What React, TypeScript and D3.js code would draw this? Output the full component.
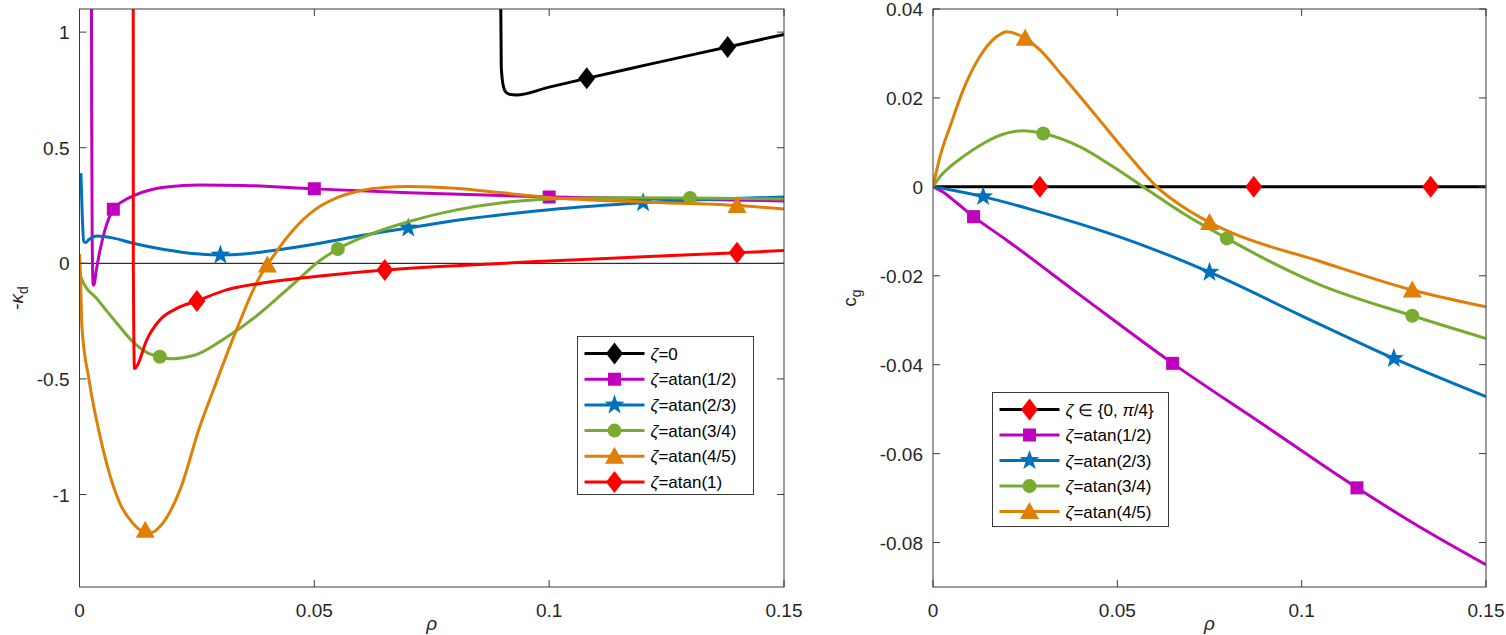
import React from "react";
import * as d3 from "d3";

type P = [number, number];

// ---------- Left panel: -kappa_d vs rho ----------
const kdBlack: P[] = [[0.0896, 1.6], [0.0897, 1.1], [0.0898, 0.85], [0.0902, 0.77], [0.0908, 0.74], [0.0918, 0.73], [0.093, 0.728], [0.1, 0.762], [0.108, 0.8], [0.12, 0.855], [0.138, 0.936], [0.15, 0.99]];
const kdBlackMarks: P[] = [[0.108, 0.8], [0.138, 0.936]];

const kdMagenta: P[] = [[0.0025, 1.6], [0.0026, 0.6], [0.0027, 0.1], [0.0029, -0.09], [0.0031, -0.095], [0.0035, -0.04], [0.0044, 0.06], [0.0055, 0.15], [0.0072, 0.234], [0.0095, 0.272], [0.0114, 0.292], [0.015, 0.317], [0.0185, 0.33], [0.0256, 0.339], [0.035, 0.337], [0.05, 0.322], [0.07, 0.305], [0.1, 0.287], [0.12, 0.28], [0.15, 0.27]];
const kdMagentaMarks: P[] = [[0.0072, 0.234], [0.05, 0.322], [0.1, 0.287]];

const kdBlue: P[] = [[0.0003, 0.39], [0.0006, 0.2], [0.0009, 0.095], [0.0013, 0.09], [0.002, 0.103], [0.0037, 0.118], [0.007, 0.11], [0.0114, 0.087], [0.018, 0.06], [0.0256, 0.04], [0.03, 0.036], [0.035, 0.04], [0.04, 0.052], [0.0512, 0.087], [0.06, 0.12], [0.07, 0.153], [0.08, 0.185], [0.1, 0.232], [0.12, 0.262], [0.135, 0.277], [0.15, 0.287]];
const kdBlueMarks: P[] = [[0.03, 0.036], [0.07, 0.153], [0.12, 0.262]];

const kdGreen: P[] = [[0, -0.03], [0.0003, -0.06], [0.004, -0.16], [0.008, -0.26], [0.0114, -0.34], [0.0143, -0.385], [0.0171, -0.404], [0.0193, -0.413], [0.022, -0.408], [0.0249, -0.395], [0.0313, -0.32], [0.0384, -0.216], [0.0455, -0.09], [0.0512, 0.012], [0.055, 0.062], [0.06, 0.11], [0.07, 0.18], [0.08, 0.23], [0.09, 0.262], [0.1, 0.278], [0.115, 0.284], [0.13, 0.283], [0.15, 0.278]];
const kdGreenMarks: P[] = [[0.0171, -0.404], [0.055, 0.062], [0.13, 0.283]];

const kdOrange: P[] = [[0, 0.04], [0.0002, -0.05], [0.0005, -0.27], [0.002, -0.5], [0.0044, -0.75], [0.0086, -1.038], [0.0114, -1.125], [0.014, -1.163], [0.0155, -1.163], [0.0171, -1.139], [0.0214, -0.98], [0.0256, -0.707], [0.0285, -0.548], [0.0334, -0.289], [0.0384, -0.058], [0.04, -0.007], [0.0455, 0.144], [0.05, 0.23], [0.055, 0.285], [0.06, 0.315], [0.065, 0.328], [0.07, 0.332], [0.08, 0.325], [0.09, 0.305], [0.1, 0.285], [0.12, 0.265], [0.14, 0.25], [0.15, 0.235]];
const kdOrangeMarks: P[] = [[0.014, -1.155], [0.04, -0.007], [0.14, 0.25]];

const kdRed: P[] = [[0.01143, 1.6], [0.01146, 0.0], [0.0117, -0.455], [0.0122, -0.445], [0.0143, -0.332], [0.0171, -0.245], [0.0207, -0.195], [0.025, -0.163], [0.0313, -0.115], [0.0384, -0.087], [0.0512, -0.055], [0.065, -0.029], [0.08, -0.01], [0.1, 0.01], [0.12, 0.028], [0.14, 0.046], [0.15, 0.055]];
const kdRedMarks: P[] = [[0.025, -0.163], [0.065, -0.029], [0.14, 0.046]];

const kdZero: P[] = [[0, 0], [0.15, 0]];

// ---------- Right panel: c_g vs rho ----------
const cgBlack: P[] = [[0, 0], [0.15, 0]];
const cgBlackMarks: P[] = [[0.029, 0], [0.087, 0], [0.135, 0]];

const cgMagenta: P[] = [[0, 0], [0.003, -0.0013], [0.006, -0.0033], [0.011, -0.0067], [0.02, -0.012], [0.04, -0.0244], [0.065, -0.0397], [0.09, -0.0537], [0.115, -0.0677], [0.13, -0.0755], [0.15, -0.085]];
const cgMagentaMarks: P[] = [[0.011, -0.0067], [0.065, -0.0397], [0.115, -0.0677]];

const cgBlue: P[] = [[0, 0], [0.005, -0.0007], [0.0136, -0.0022], [0.0263, -0.005], [0.04, -0.0084], [0.05, -0.0111], [0.06, -0.0141], [0.075, -0.0192], [0.1, -0.029], [0.125, -0.0386], [0.15, -0.0472]];
const cgBlueMarks: P[] = [[0.0136, -0.0022], [0.075, -0.0192], [0.125, -0.0386]];

const cgGreen: P[] = [[0, 0], [0.0019, 0.0023], [0.0046, 0.0045], [0.0082, 0.0068], [0.0127, 0.0093], [0.0173, 0.0113], [0.0245, 0.0126], [0.0299, 0.012], [0.0399, 0.009], [0.0489, 0.0045], [0.057, 0], [0.0679, -0.006], [0.0797, -0.0116], [0.09, -0.0162], [0.104, -0.0217], [0.13, -0.029], [0.15, -0.0341]];
const cgGreenMarks: P[] = [[0.0299, 0.012], [0.0797, -0.0116], [0.13, -0.029]];

const cgOrange: P[] = [[0, 0], [0.0019, 0.0068], [0.0046, 0.0135], [0.0082, 0.0218], [0.0127, 0.0293], [0.0173, 0.0338], [0.02, 0.0349], [0.025, 0.0334], [0.029, 0.0308], [0.0353, 0.0248], [0.0444, 0.0158], [0.0534, 0.0068], [0.0607, 0], [0.0697, -0.0055], [0.075, -0.008], [0.0806, -0.0102], [0.104, -0.0165], [0.13, -0.0232], [0.15, -0.027]];
const cgOrangeMarks: P[] = [[0.025, 0.0334], [0.075, -0.008], [0.13, -0.0232]];

// ---------- ticks & labels ----------
const xTicks = [0, 0.05, 0.1, 0.15];
const xTickLabels = ["0", "0.05", "0.1", "0.15"];
const kdTicks = [-1, -0.5, 0, 0.5, 1];
const kdTickLabels = ["-1", "-0.5", "0", "0.5", "1"];
const cgTicks = [-0.08, -0.06, -0.04, -0.02, 0, 0.02, 0.04];
const cgTickLabels = ["-0.08", "-0.06", "-0.04", "-0.02", "0", "0.02", "0.04"];

const legendLeft = ["=0", "=atan(1/2)", "=atan(2/3)", "=atan(3/4)", "=atan(4/5)", "=atan(1)"];
const legendRight = ["=atan(1/2)", "=atan(2/3)", "=atan(3/4)", "=atan(4/5)"];

const C = {
  black: "#000000",
  magenta: "#BF00BF",
  blue: "#0072BD",
  green: "#77AC30",
  orange: "#DF7F05",
  red: "#FF0000",
};

const FONT = "'Liberation Sans', Arial, Helvetica, sans-serif";
const AX = "#3a3a3a";
const TICK_FS = 19;
const LEG_FS = 17;

type MarkerType = "diamond" | "square" | "star" | "circle" | "triangle";

function starPath(R: number, r: number) {
  const pts: string[] = [];
  for (let i = 0; i < 10; i++) {
    const a = -Math.PI / 2 + (i * Math.PI) / 5;
    const rr = i % 2 === 0 ? R : r;
    pts.push(`${(rr * Math.cos(a)).toFixed(2)},${(rr * Math.sin(a)).toFixed(2)}`);
  }
  return "M" + pts.join("L") + "Z";
}

function Marker({ type, x, y, color }: { type: MarkerType; x: number; y: number; color: string }) {
  const t = `translate(${x},${y})`;
  if (type === "circle") return <circle cx={x} cy={y} r={7} fill={color} />;
  let d = "";
  if (type === "diamond") d = "M0,-11L8.5,0L0,11L-8.5,0Z";
  else if (type === "square") d = "M-6.5,-6.5H6.5V6.5H-6.5Z";
  else if (type === "star") d = starPath(10.5, 4.2);
  else if (type === "triangle") d = "M0,-9.5L9.5,7.5L-9.5,7.5Z";
  return <path d={d} transform={t} fill={color} />;
}

type Series = { data: P[]; marks: P[]; color: string; markColor: string; marker: MarkerType };

function Panel({
  x0, x1, y0, y1, yDomain, yTicks, yTickLabels, series, extra, clipId, yLabel, yLabelX, legend,
}: {
  x0: number; x1: number; y0: number; y1: number; yDomain: [number, number];
  yTicks: number[]; yTickLabels: string[]; series: Series[]; extra?: P[]; clipId: string;
  yLabel: React.ReactNode; yLabelX: number;
  legend: { x: number; y: number; w: number; h: number; row0: number; dy: number; items: { label: React.ReactNode; s: Series }[] };
}) {
  const xs = d3.scaleLinear().domain([0, 0.15]).range([x0, x1]);
  const ys = d3.scaleLinear().domain(yDomain).range([y1, y0]);
  const line = d3.line<P>().x((d) => xs(d[0])).y((d) => ys(d[1])).curve(d3.curveMonotoneX);
  const tl = 7;
  return (
    <g>
      <defs>
        <clipPath id={clipId}>
          <rect x={x0} y={y0} width={x1 - x0} height={y1 - y0} />
        </clipPath>
      </defs>
      <g clipPath={`url(#${clipId})`}>
        {extra && <path d={d3.line<P>().x((d) => xs(d[0])).y((d) => ys(d[1]))(extra) || ""} stroke="#000" strokeWidth={1} fill="none" />}
        {series.map((s, i) => (
          <g key={i}>
            <path d={line(s.data) || ""} stroke={s.color} strokeWidth={3} fill="none" strokeLinejoin="round" />
            {s.marks.map((m, j) => (
              <Marker key={j} type={s.marker} x={xs(m[0])} y={ys(m[1])} color={s.markColor} />
            ))}
          </g>
        ))}
      </g>
      {/* frame */}
      <rect x={x0} y={y0} width={x1 - x0} height={y1 - y0} fill="none" stroke={AX} strokeWidth={1} />
      {xTicks.map((t, i) => (
        <g key={"x" + i}>
          <line x1={xs(t)} x2={xs(t)} y1={y1} y2={y1 - tl} stroke={AX} />
          <line x1={xs(t)} x2={xs(t)} y1={y0} y2={y0 + tl} stroke={AX} />
          <text x={xs(t)} y={617} textAnchor="middle" fontSize={TICK_FS} fontFamily={FONT} fill="#262626">{xTickLabels[i]}</text>
        </g>
      ))}
      {yTicks.map((t, i) => (
        <g key={"y" + i}>
          <line x1={x0} x2={x0 + tl} y1={ys(t)} y2={ys(t)} stroke={AX} />
          <line x1={x1} x2={x1 - tl} y1={ys(t)} y2={ys(t)} stroke={AX} />
          <text x={x0 - 10} y={ys(t) + 7} textAnchor="end" fontSize={TICK_FS} fontFamily={FONT} fill="#262626">{yTickLabels[i]}</text>
        </g>
      ))}
      <text x={(x0 + x1) / 2} y={630} textAnchor="middle" fontSize={19} fontFamily={FONT} fontStyle="italic" fill="#262626">ρ</text>
      <text transform={`translate(${yLabelX},${(y0 + y1) / 2}) rotate(-90)`} textAnchor="middle" fontSize={TICK_FS} fontFamily={FONT} fill="#262626">{yLabel}</text>
      {/* legend */}
      <rect x={legend.x} y={legend.y} width={legend.w} height={legend.h} fill="#fff" stroke={AX} strokeWidth={1} />
      {legend.items.map((it, i) => {
        const yy = legend.row0 + i * legend.dy;
        const lx = legend.x + 7;
        return (
          <g key={"l" + i}>
            <line x1={lx} x2={lx + 60} y1={yy} y2={yy} stroke={it.s.color} strokeWidth={3} />
            <Marker type={it.s.marker} x={lx + 30} y={yy} color={it.s.markColor} />
            <text x={lx + 66} y={yy + 6} fontSize={LEG_FS} fontFamily={FONT} fill="#000">{it.label}</text>
          </g>
        );
      })}
    </g>
  );
}

export default function App() {
  const zeta = <tspan fontStyle="italic">ζ</tspan>;
  const left: Series[] = [
    { data: kdBlack, marks: kdBlackMarks, color: C.black, markColor: C.black, marker: "diamond" },
    { data: kdMagenta, marks: kdMagentaMarks, color: C.magenta, markColor: C.magenta, marker: "square" },
    { data: kdBlue, marks: kdBlueMarks, color: C.blue, markColor: C.blue, marker: "star" },
    { data: kdGreen, marks: kdGreenMarks, color: C.green, markColor: C.green, marker: "circle" },
    { data: kdOrange, marks: kdOrangeMarks, color: C.orange, markColor: C.orange, marker: "triangle" },
    { data: kdRed, marks: kdRedMarks, color: C.red, markColor: C.red, marker: "diamond" },
  ];
  const right: Series[] = [
    { data: cgBlack, marks: cgBlackMarks, color: C.black, markColor: C.red, marker: "diamond" },
    { data: cgMagenta, marks: cgMagentaMarks, color: C.magenta, markColor: C.magenta, marker: "square" },
    { data: cgBlue, marks: cgBlueMarks, color: C.blue, markColor: C.blue, marker: "star" },
    { data: cgGreen, marks: cgGreenMarks, color: C.green, markColor: C.green, marker: "circle" },
    { data: cgOrange, marks: cgOrangeMarks, color: C.orange, markColor: C.orange, marker: "triangle" },
  ];
  return (
    <svg width={1506} height={635} style={{ position: "absolute", left: 0, top: 0, background: "#fff" }}>
      <rect x={0} y={0} width={1506} height={635} fill="#fff" />
      <Panel
        x0={79.5} x1={784} y0={9} y1={587} yDomain={[-1.4, 1.1]}
        yTicks={kdTicks} yTickLabels={kdTickLabels} series={left} extra={kdZero} clipId="clipL"
        yLabelX={23}
        yLabel={<>-<tspan fontStyle="italic">κ</tspan><tspan dy={5} fontSize={14}>d</tspan></>}
        legend={{
          x: 577.5, y: 336.5, w: 176, h: 158, row0: 353.5, dy: 25.7,
          items: left.map((s, i) => ({ s, label: <>{zeta}{legendLeft[i]}</> })),
        }}
      />
      <Panel
        x0={933} x1={1486} y0={9} y1={587} yDomain={[-0.09, 0.04]}
        yTicks={cgTicks} yTickLabels={cgTickLabels} series={right} clipId="clipR"
        yLabelX={856}
        yLabel={<>c<tspan dy={5} fontSize={14}>g</tspan></>}
        legend={{
          x: 992.5, y: 392.5, w: 176, h: 134, row0: 409.5, dy: 25.5,
          items: right.map((s, i) => ({
            s,
            label: i === 0 ? <>{zeta} ∈ {"{"}0, <tspan fontStyle="italic">π</tspan>/4{"}"}</> : <>{zeta}{legendRight[i - 1]}</>,
          })),
        }}
      />
    </svg>
  );
}
